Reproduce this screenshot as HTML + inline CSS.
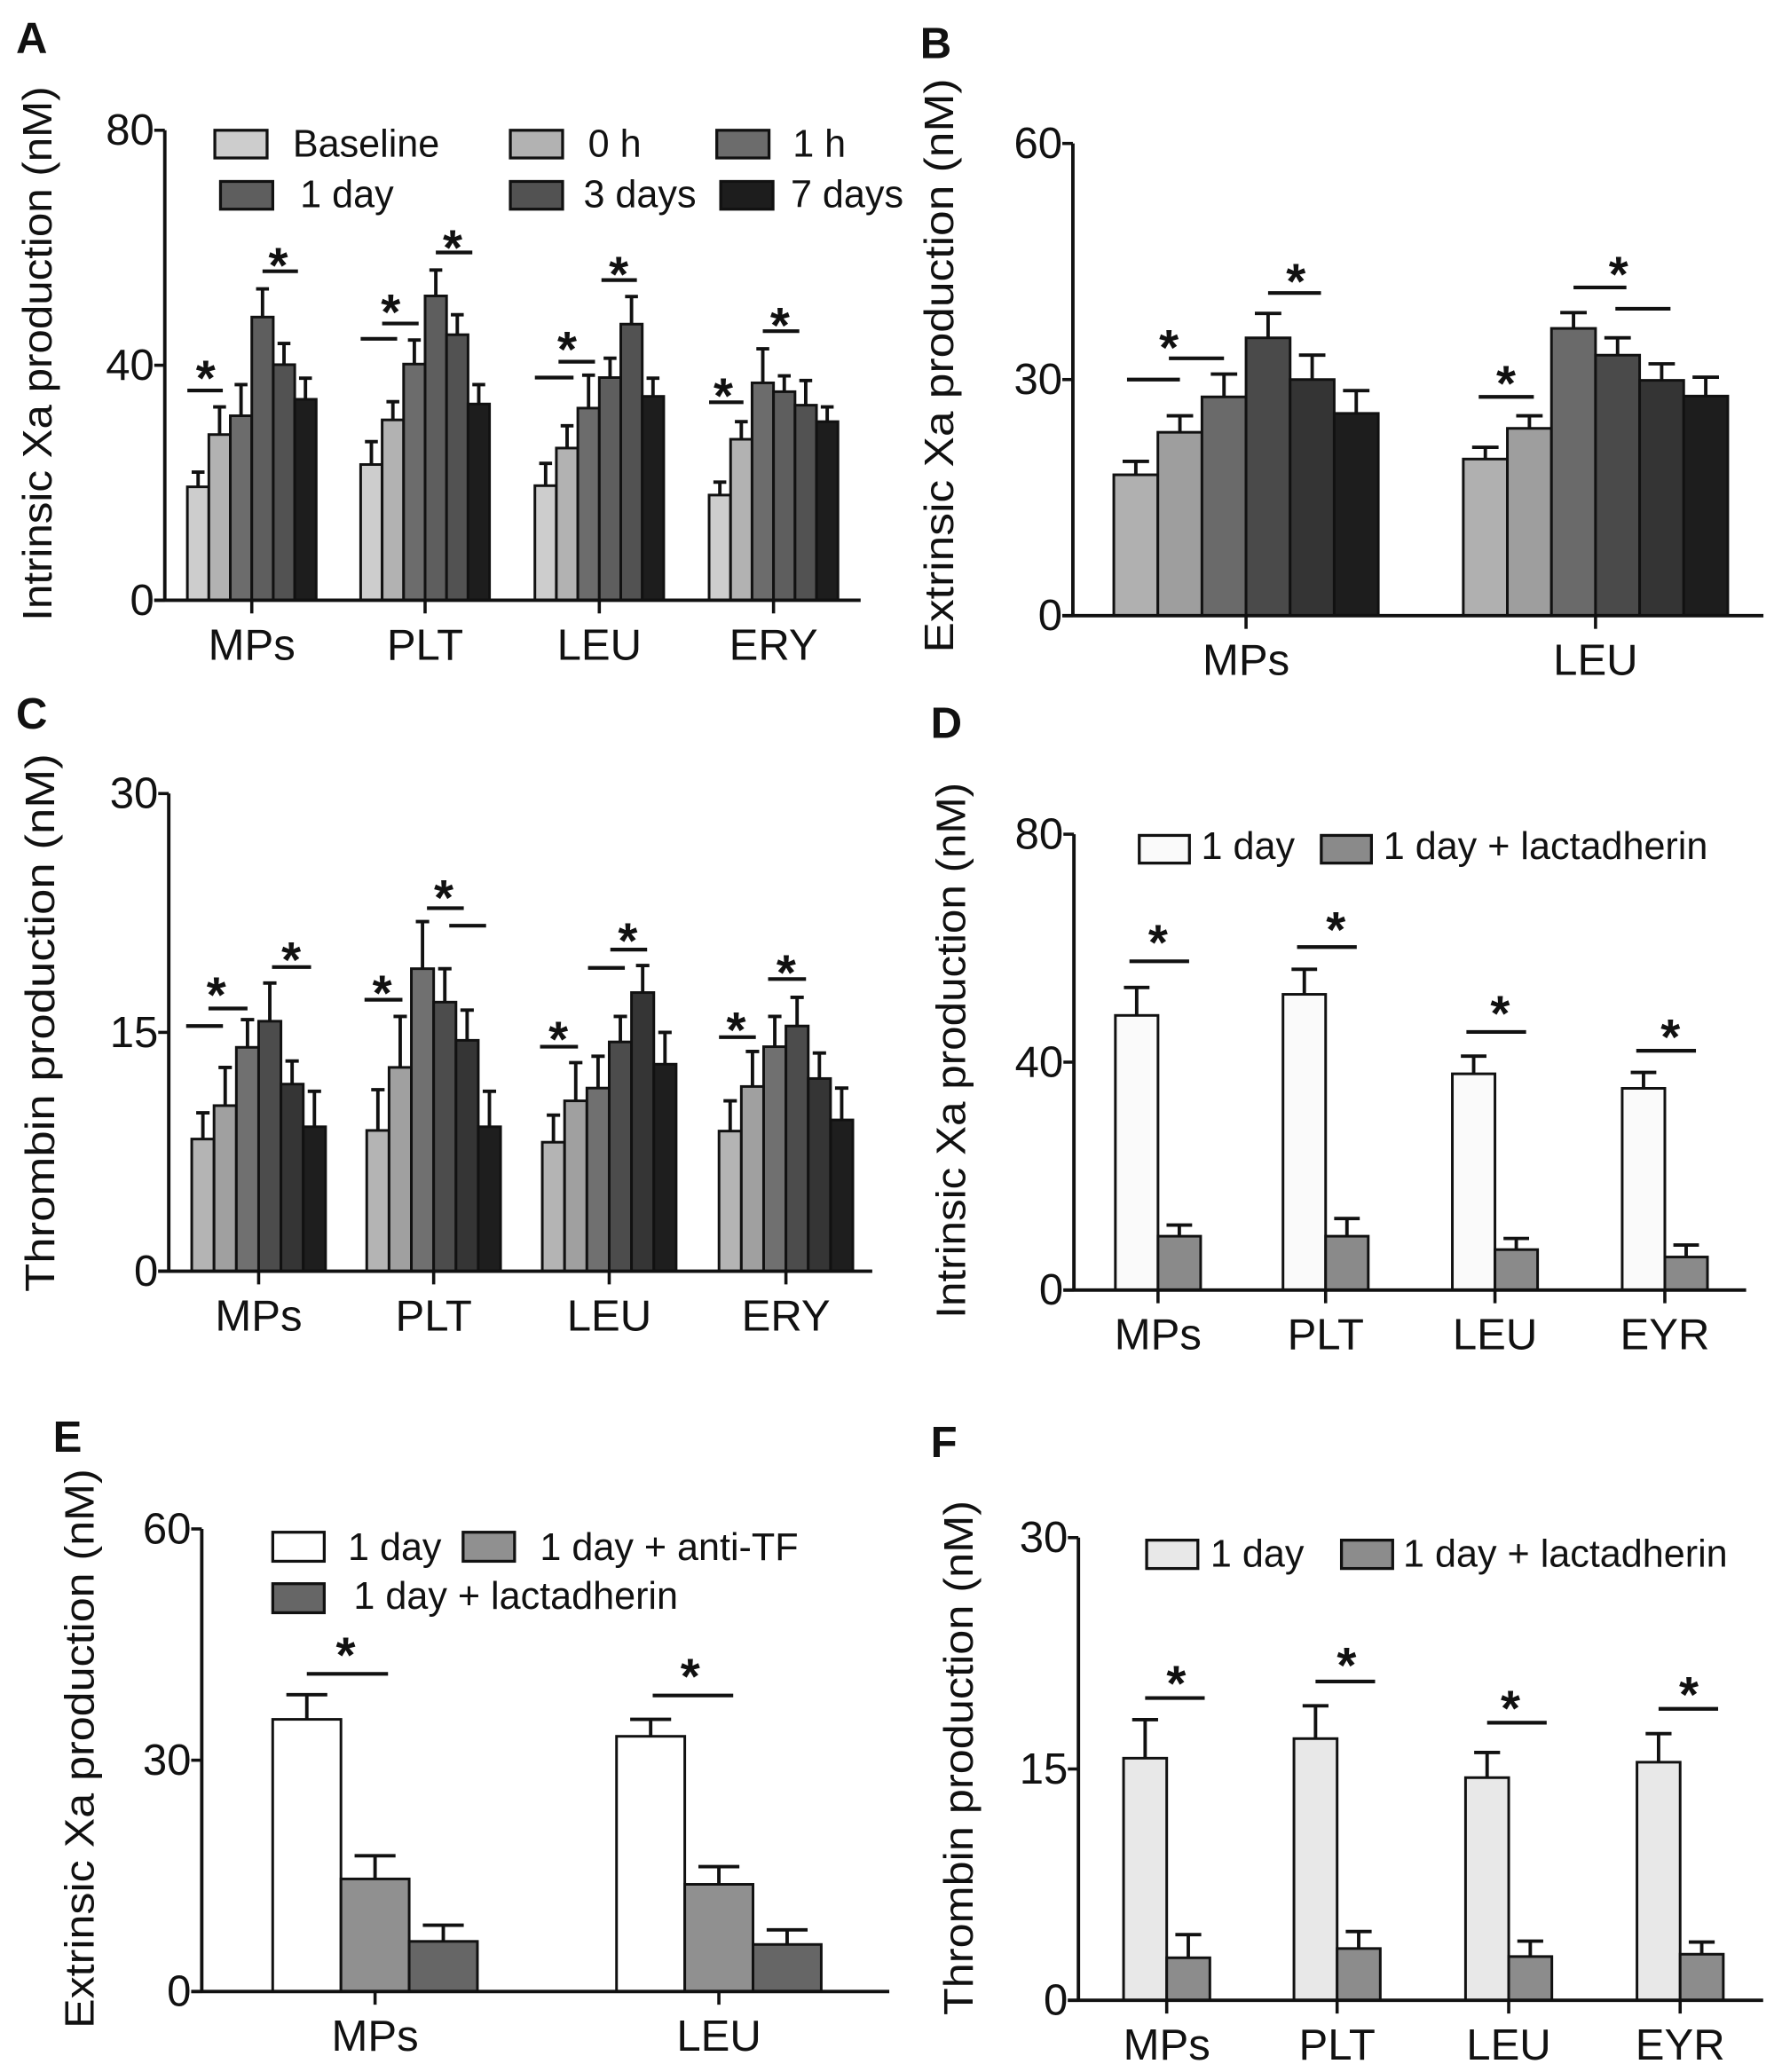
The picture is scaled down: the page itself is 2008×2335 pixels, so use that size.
<!DOCTYPE html>
<html><head><meta charset="utf-8"><style>
html,body{margin:0;padding:0;background:#fff}
svg{display:block}
text{font-family:"Liberation Sans",Arial,sans-serif;fill:#111}
</style></head><body>
<svg id="fig" xmlns="http://www.w3.org/2000/svg" width="2008" height="2335" viewBox="0 0 1350 1570"></svg>
<script>
// ---------- Panel A data (Intrinsic Xa) ----------
const catsA = ['MPs','PLT','LEU','ERY'];
const seriesNamesA = ['Baseline','0 h','1 h','1 day','3 days','7 days'];
const aBaseline = [19.3, 23.1, 19.5, 17.9];
const a0h = [28.2, 30.7, 25.9, 27.4];
const a1h = [31.4, 40.2, 32.7, 37.0];
const a1day = [48.2, 51.8, 37.9, 35.5];
const a3days = [40.1, 45.2, 47.0, 33.2];
const a7days = [34.2, 33.4, 34.7, 30.4];
const aBaselineErr = [21.8, 27.0, 23.3, 20.1];
const a0hErr = [32.9, 33.8, 29.7, 30.4];
const a1hErr = [36.7, 44.3, 38.3, 42.8];
const a1dayErr = [53.0, 56.2, 41.2, 38.2];
const a3daysErr = [43.7, 48.6, 51.7, 37.4];
const a7daysErr = [37.8, 36.7, 37.8, 32.9];
const ticksA = [0, 40, 80];
const sigA = [[0,0,1.65,35.7],[0,3.5,5.15,56],[1,0,1.7,44.5],[1,1,2.7,47.1],[1,3.5,5.2,59.2],[2,0,1.8,37.9],[2,1.1,2.8,40.6],[2,3.1,4.75,54.5],[3,0,1.6,33.7],[3,2.5,4.2,45.8]];
const starsA = [[0,0.85,39.8],[0,4.23,59],[1,1.4,51.1],[1,4.28,62],[2,1.5,44.7],[2,3.9,57.5],[3,0.66,36.8],[3,3.3,48.8]];

// ---------- Panel B data (Extrinsic Xa) ----------
const catsB = ['MPs','LEU'];
const bBaseline = [17.9, 19.9];
const b0h = [23.3, 23.8];
const b1h = [27.8, 36.5];
const b1day = [35.3, 33.1];
const b3days = [30.0, 29.9];
const b7days = [25.7, 27.9];
const bBaselineErr = [19.6, 21.4];
const b0hErr = [25.4, 25.4];
const b1hErr = [30.7, 38.5];
const b1dayErr = [38.4, 35.3];
const b3daysErr = [33.1, 32.0];
const b7daysErr = [28.6, 30.3];
const ticksB = [0, 30, 60];
const sigB = [[0,0.3,1.5,30],[0,1.25,2.5,32.7],[0,3.5,4.7,41],[1,0.35,1.6,27.8],[1,2.5,3.7,41.7],[1,3.45,4.7,39]];
const starsB = [[0,1.25,35.6],[0,4.13,44],[1,0.97,31],[1,3.52,44.9]];

// ---------- Panel C data (Thrombin) ----------
const catsC = ['MPs','PLT','LEU','ERY'];
const cBaseline = [8.3, 8.84, 8.1, 8.8];
const c0h = [10.4, 12.8, 10.7, 11.6];
const c1h = [14.06, 19.0, 11.5, 14.1];
const c1day = [15.7, 16.9, 14.4, 15.4];
const c3days = [11.75, 14.5, 17.5, 12.1];
const c7days = [9.07, 9.07, 13.0, 9.5];
const cBaselineErr = [9.95, 11.4, 9.8, 10.7];
const c0hErr = [12.8, 16.0, 13.1, 13.8];
const c1hErr = [15.8, 21.96, 13.5, 16.0];
const c1dayErr = [18.1, 19.0, 16.0, 17.2];
const c3daysErr = [13.2, 16.4, 19.2, 13.7];
const c7daysErr = [11.3, 11.3, 15.0, 11.5];
const ticksC = [0, 15, 30];
const sigC = [[0,-0.25,1.4,15.4],[0,0.75,2.5,16.5],[0,3.6,5.35,19.1],[1,-0.1,1.6,17.05],[1,2.7,4.35,22.8],[1,3.7,5.35,21.7],[2,-0.1,1.6,14.1],[2,2.05,3.7,19.05],[2,3.05,4.7,20.2],[3,0,1.65,14.7],[3,2.2,3.9,18.35]];
const starsC = [[0,1.1,18.1],[0,4.46,20.3],[1,0.69,18.2],[1,3.45,24.2],[2,0.72,15.3],[2,3.83,21.5],[3,0.77,15.9],[3,3.01,19.5]];

// ---------- Panel D data ----------
const catsD = ['MPs','PLT','LEU','EYR'];
const d1day = [48.2, 51.9, 37.95, 35.4];
const dLact = [9.45, 9.45, 7.1, 5.8];
const d1dayErr = [53.1, 56.3, 41.05, 38.2];
const dLactErr = [11.4, 12.55, 9.06, 7.9];
const ticksD = [0, 40, 80];
const sigD = [[0,0.33,1.73,57.7],[1,0.33,1.73,60.2],[2,0.33,1.73,45.3],[3,0.33,1.73,42]];
const starsD = [[0,1.0,63.1],[1,1.24,65.3],[2,1.12,50.6],[3,1.13,46.5]];

// ---------- Panel E data ----------
const catsE = ['MPs','LEU'];
const e1day = [35.3, 33.1];
const eAntiTF = [14.6, 13.9];
const eLact = [6.5, 6.1];
const e1dayErr = [38.5, 35.3];
const eAntiTFErr = [17.6, 16.2];
const eLactErr = [8.6, 8.0];
const ticksE = [0, 30, 60];
const sigE = [[0,0.5,1.69,41.2],[1,0.53,1.71,38.4]];
const starsE = [[0,1.07,45.2],[1,1.08,42.4]];

// ---------- Panel F data ----------
const catsF = ['MPs','PLT','LEU','EYR'];
const f1day = [15.7, 16.97, 14.44, 15.44];
const fLact = [2.76, 3.36, 2.84, 2.99];
const f1dayErr = [18.2, 19.1, 16.07, 17.29];
const fLactErr = [4.26, 4.46, 3.84, 3.78];
const ticksF = [0, 15, 30];
const sigF = [[0,0.5,1.88,19.6],[1,0.5,1.88,20.67],[2,0.5,1.88,18.0],[3,0.5,1.88,18.9]];
const starsF = [[0,1.22,21.3],[1,1.22,22.5],[2,1.04,19.7],[3,1.2,20.6]];

const NS = 'http://www.w3.org/2000/svg';
const svg = document.getElementById('fig');
function mk(tag, attrs, parent, txt){
  const e = document.createElementNS(NS, tag);
  for (const k in attrs) e.setAttribute(k, attrs[k]);
  if (txt !== undefined) e.textContent = txt;
  parent.appendChild(e);
  return e;
}

const panels = [
 {id:'a', letter:'A', lx:12, ly:40, ax:124.8, y0:454.8, yTop:98.7, yMax:80, xEnd:652, centers:[190.7,322,454,586], bw:16.27,
  cats:catsA, series:[aBaseline,a0h,a1h,a1day,a3days,a7days], errs:[aBaselineErr,a0hErr,a1hErr,a1dayErr,a3daysErr,a7daysErr],
  colors:['#cdcdcd','#b2b2b2','#6c6c6c','#5e5e5e','#525252','#1d1d1d'], ticks:ticksA, sig:sigA, stars:starsA,
  title:'Intrinsic Xa production (nM)', tx:28, ty:268, tlen:405,
  legend:[[162.7,98.7,'Baseline',221.7,118.7,0],[386.6,98.7,'0 h',445.5,118.7,1],[543,98.7,'1 h',600.5,118.7,2],
          [167,137.5,'1 day',227.3,157,3],[386.6,137.5,'3 days',442,157,4],[546,137.5,'7 days',599,157,5]], lw:39.6, lh:21},
 {id:'b', letter:'B', lx:697, ly:44, ax:812.8, y0:466.5, yTop:108.7, yMax:60, xEnd:1336, centers:[944,1208.8], bw:33.4,
  cats:catsB, series:[bBaseline,b0h,b1h,b1day,b3days,b7days], errs:[bBaselineErr,b0hErr,b1hErr,b1dayErr,b3daysErr,b7daysErr],
  colors:['#b0b0b0','#9e9e9e','#6a6a6a','#4a4a4a','#343434','#1d1d1d'], ticks:ticksB, sig:sigB, stars:starsB,
  title:'Extrinsic Xa production (nM)', tx:711, ty:277, tlen:435, legend:[]},
 {id:'c', letter:'C', lx:12, ly:552, ax:127.8, y0:963.2, yTop:601.3, yMax:30, xEnd:660.8, centers:[195.9,328.5,461.5,595.4], bw:16.9,
  cats:catsC, series:[cBaseline,c0h,c1h,c1day,c3days,c7days], errs:[cBaselineErr,c0hErr,c1hErr,c1dayErr,c3daysErr,c7daysErr],
  colors:['#b4b4b4','#a0a0a0','#707070','#4c4c4c','#353535','#1e1e1e'], ticks:ticksC, sig:sigC, stars:starsC,
  title:'Thrombin production (nM)', tx:30, ty:775, tlen:408, legend:[]},
 {id:'d', letter:'D', lx:705, ly:559, ax:813.6, y0:977.5, yTop:632.1, yMax:80, xEnd:1322.9, centers:[877.3,1004.3,1132.6,1261.3], bw:32.3,
  cats:catsD, series:[d1day,dLact], errs:[d1dayErr,dLactErr], colors:['#fafafa','#8a8a8a'], ticks:ticksD, sig:sigD, stars:starsD,
  title:'Intrinsic Xa production (nM)', tx:720, ty:796, tlen:406,
  legend:[[863.1,633,'1 day',910,651,0],[1001,633,'1 day + lactadherin',1048,651,1]], lw:38, lh:21},
 {id:'e', letter:'E', lx:40, ly:1100, ax:152.8, y0:1509, yTop:1158.5, yMax:60, xEnd:673.7, centers:[284.1,544.6], bw:51.7,
  cats:catsE, series:[e1day,eAntiTF,eLact], errs:[e1dayErr,eAntiTFErr,eLactErr], colors:['#ffffff','#909090','#666666'], ticks:ticksE, sig:sigE, stars:starsE,
  title:'Extrinsic Xa production (nM)', tx:60, ty:1325, tlen:424,
  legend:[[206.6,1161,'1 day',263.5,1182,0],[350.8,1161,'1 day + anti-TF',409,1182,1],[206.6,1200,'1 day + lactadherin',267.8,1219,2]], lw:39, lh:22},
 {id:'f', letter:'F', lx:705, ly:1104, ax:817, y0:1515.7, yTop:1165.1, yMax:30, xEnd:1335.8, centers:[883.9,1013,1143,1272.9], bw:32.7,
  cats:catsF, series:[f1day,fLact], errs:[f1dayErr,fLactErr], colors:['#e8e8e8','#8c8c8c'], ticks:ticksF, sig:sigF, stars:starsF,
  title:'Thrombin production (nM)', tx:726, ty:1332, tlen:390,
  legend:[[868.7,1167,'1 day',917,1187,0],[1016.3,1167,'1 day + lactadherin',1063,1187,1]], lw:38.8, lh:21.5}
];

panels.forEach(p => {
  const g = mk('g', {}, svg);
  
  
  const sy = v => p.y0 - v / p.yMax * (p.y0 - p.yTop);
  const n = p.series.length;
  const gx = (gi, slot) => p.centers[gi] - n * p.bw / 2 + slot * p.bw;

  const L = mk('text', {x:p.lx, y:p.ly, 'font-size':33, 'font-weight':'bold'}, g, p.letter);
  
  

  const T = mk('text', {x:0, y:0, 'font-size':31, 'text-anchor':'middle', textLength:p.tlen, lengthAdjust:'spacingAndGlyphs',
    transform:'translate(' + (p.tx + 11) + ',' + p.ty + ') rotate(-90)'}, g, p.title);
  
  

  p.series.forEach((ser, si) => {
    ser.forEach((v, gi) => {
      const x = gx(gi, si);
      const r = mk('rect', {x:x, y:sy(v), width:p.bw, height:p.y0 - sy(v), fill:p.colors[si], stroke:'#111', 'stroke-width':2}, g);
      
      
      const e = p.errs[si][gi];
      const cx = x + p.bw / 2;
      const eb = mk('path', {d:'M' + cx + ' ' + sy(v) + 'V' + sy(e) + 'M' + (cx - p.bw * 0.3) + ' ' + sy(e) + 'H' + (cx + p.bw * 0.3), stroke:'#111', 'stroke-width':2.6, fill:'none'}, g);
      
      
    });
  });

  const ya = mk('line', {x1:p.ax, y1:p.yTop, x2:p.ax, y2:p.y0, stroke:'#111', 'stroke-width':2.6}, g);
  
  
  const xa = mk('line', {x1:p.ax - 8, y1:p.y0, x2:p.xEnd, y2:p.y0, stroke:'#111', 'stroke-width':2.6}, g);
  
  
  p.ticks.forEach(t => {
    const tk = mk('line', {x1:p.ax - 8, y1:sy(t), x2:p.ax, y2:sy(t), stroke:'#111', 'stroke-width':2.4}, g);
    
    
    const tl = mk('text', {x:p.ax - 8, y:sy(t) + 11, 'font-size':33, 'text-anchor':'end'}, g, String(t));
    
    
  });
  p.cats.forEach((c, gi) => {
    const tk = mk('line', {x1:p.centers[gi], y1:p.y0, x2:p.centers[gi], y2:p.y0 + 10, stroke:'#111', 'stroke-width':2.4}, g);
    
    
    const cl = mk('text', {x:p.centers[gi], y:p.y0 + 45, 'font-size':33, 'text-anchor':'middle'}, g, c);
    
    
  });

  p.sig.forEach(s => {
    const ln = mk('line', {x1:gx(s[0], s[1]), y1:sy(s[3]), x2:gx(s[0], s[2]), y2:sy(s[3]), stroke:'#111', 'stroke-width':2.8}, g);
    
    
  });
  p.stars.forEach(s => {
    const st = mk('text', {x:gx(s[0], s[1]), y:sy(s[2]) + 22, 'font-size':38, 'font-weight':'bold', 'text-anchor':'middle'}, g, '*');
    
    
  });

  p.legend.forEach(l => {
    const sw = mk('rect', {x:l[0], y:l[1], width:p.lw, height:p.lh, fill:p.colors[l[5]], stroke:'#111', 'stroke-width':2.2}, g);
    
    
    const lt = mk('text', {x:l[3], y:l[4], 'font-size':29}, g, l[2]);
    
    
  });
});
</script>
</body></html>
